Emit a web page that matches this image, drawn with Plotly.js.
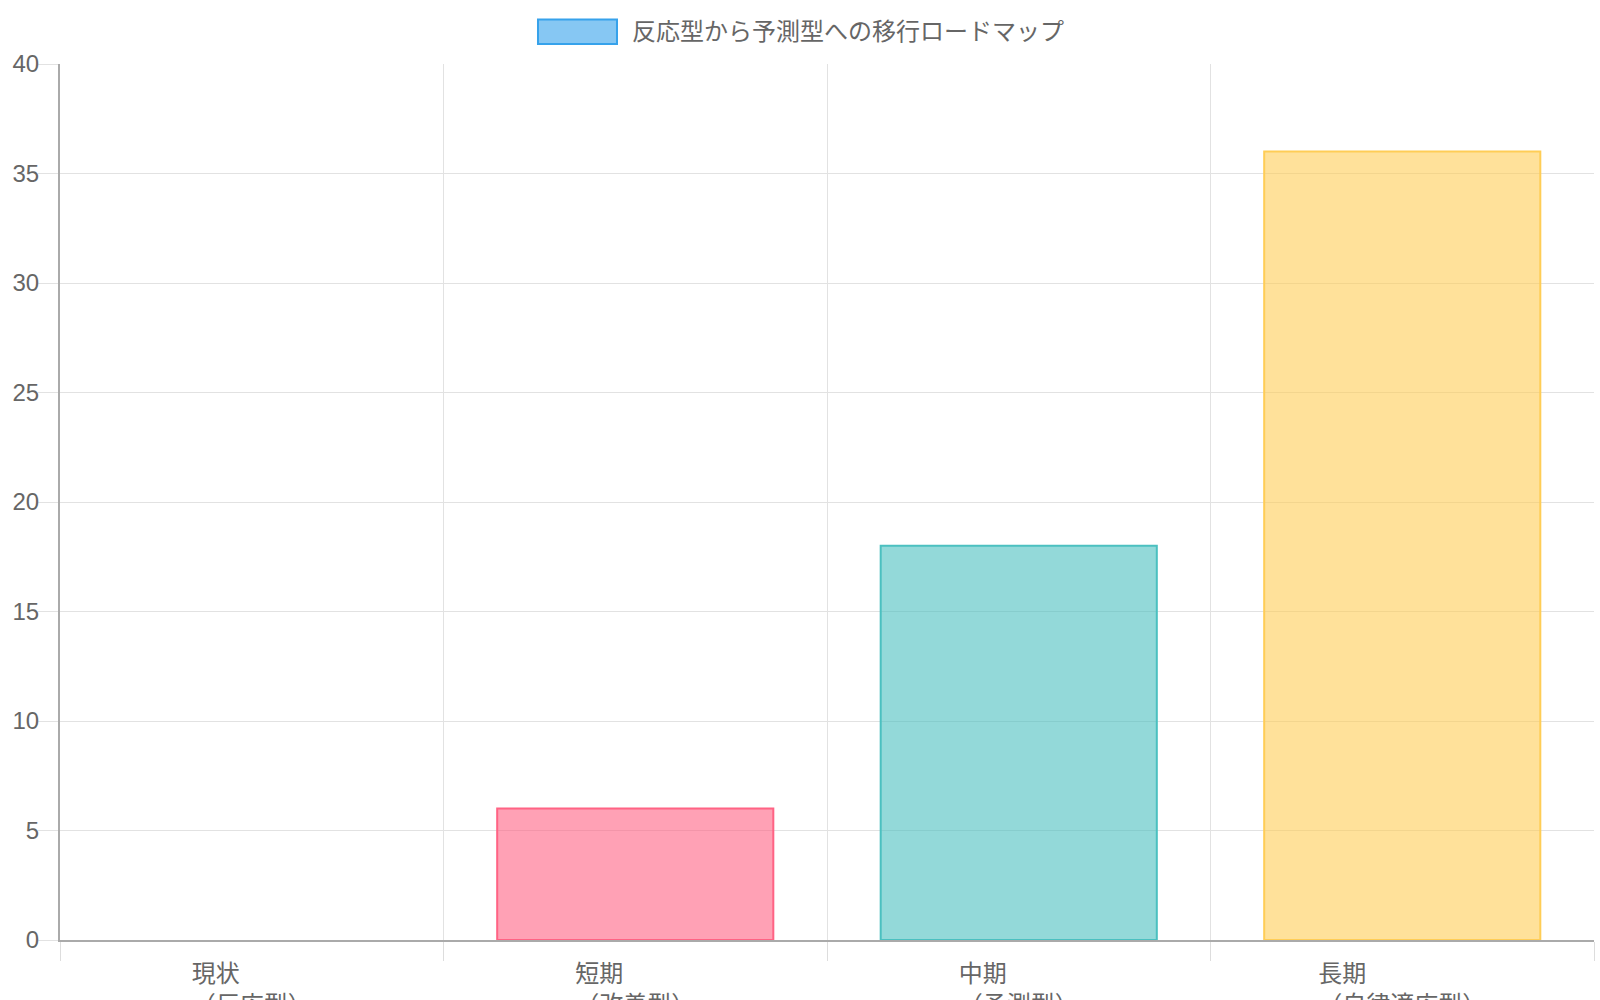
<!DOCTYPE html>
<html>
<head>
<meta charset="utf-8">
<script src="https://cdn.plot.ly/plotly-3.0.1.min.js"></script>
<style>
  html, body { margin: 0; padding: 0; background: #fff; }
  #chart { width: 1600px; height: 1000px; }
</style>
</head>
<body>
<div id="chart"></div>
<script>
// roadmap stages and their scores
const stageNames = ["現状", "短期", "中期", "長期"];
const stageTypes = ["（反応型）", "（改善型）", "（予測型）", "（自律適応型）"];
const stageValues = [0, 6, 18, 36];
const seriesName = "反応型から予測型への移行ロードマップ";

const fillColors = [
  "rgba(54,162,235,0.6)",
  "rgba(255,99,132,0.6)",
  "rgba(75,192,192,0.6)",
  "rgba(255,205,86,0.6)",
];
const lineColors = [
  "rgb(54,162,235)",
  "rgb(255,99,132)",
  "rgb(75,192,192)",
  "rgb(255,205,86)",
];

const FONT = "'Liberation Sans', 'Noto Sans CJK JP', Arial, sans-serif";
const TEXT_GREY = "#666";

// first line padded with ideographic spaces so both lines start at the same x
function tickLabel(name, type) {
  const pad = Math.max(0, [...type].length - [...name].length);
  return name + "\u3000".repeat(pad) + "<br>" + type;
}

// a zero bar gets no outline, like the original
const lineWidths = stageValues.map((v) => (v === 0 ? 0 : 2));

const data = [
  {
    type: "bar",
    x: stageNames,
    y: stageValues,
    name: seriesName,
    marker: {
      color: fillColors,
      line: { color: lineColors, width: lineWidths },
    },
    showlegend: false,
    hoverinfo: "x+y",
  },
];

const layout = {
  width: 1600,
  height: 1000,
  margin: { l: 60, r: 6, t: 64, b: 60, pad: 0 },
  paper_bgcolor: "#fff",
  plot_bgcolor: "#fff",
  font: { family: FONT, size: 24, color: TEXT_GREY },
  bargap: 0.28,
  showlegend: false,
  xaxis: {
    type: "category",
    tickmode: "array",
    tickvals: stageNames,
    ticktext: stageNames.map((n, i) => tickLabel(n, stageTypes[i])),
    tickson: "boundaries",
    ticks: "outside",
    ticklen: 19,
    tickcolor: "#ddd",
    showgrid: true,
    gridcolor: "#e2e2e2",
    gridwidth: 1,
    showline: true,
    linecolor: "#aaa",
    linewidth: 2,
    zeroline: false,
    automargin: false,
    ticklabelstandoff: 11,
    tickfont: { family: FONT, size: 24, color: TEXT_GREY },
    fixedrange: true,
  },
  yaxis: {
    range: [0, 40],
    dtick: 5,
    ticks: "outside",
    ticklen: 20,
    tickcolor: "#e2e2e2",
    showgrid: true,
    gridcolor: "#e2e2e2",
    gridwidth: 1,
    showline: true,
    linecolor: "#aaa",
    linewidth: 2,
    zeroline: false,
    automargin: false,
    ticklabelstandoff: -6,
    tickfont: { family: FONT, size: 24, color: TEXT_GREY },
    fixedrange: true,
  },
  // legend drawn by hand to get the wide Chart-style swatch
  shapes: [
    {
      type: "rect",
      xref: "paper",
      yref: "paper",
      x0: 0.3116,
      x1: 0.3631,
      y0: 1.0228,
      y1: 1.0509,
      fillcolor: fillColors[0],
      line: { color: lineColors[0], width: 2 },
    },
  ],
  annotations: [
    {
      xref: "paper",
      yref: "paper",
      x: 0.3718,
      y: 1.037,
      xanchor: "left",
      yanchor: "middle",
      showarrow: false,
      text: seriesName,
      font: { family: FONT, size: 24, color: TEXT_GREY },
    },
  ],
};

Plotly.newPlot("chart", data, layout, { displayModeBar: false, responsive: false });
</script>
</body>
</html>
